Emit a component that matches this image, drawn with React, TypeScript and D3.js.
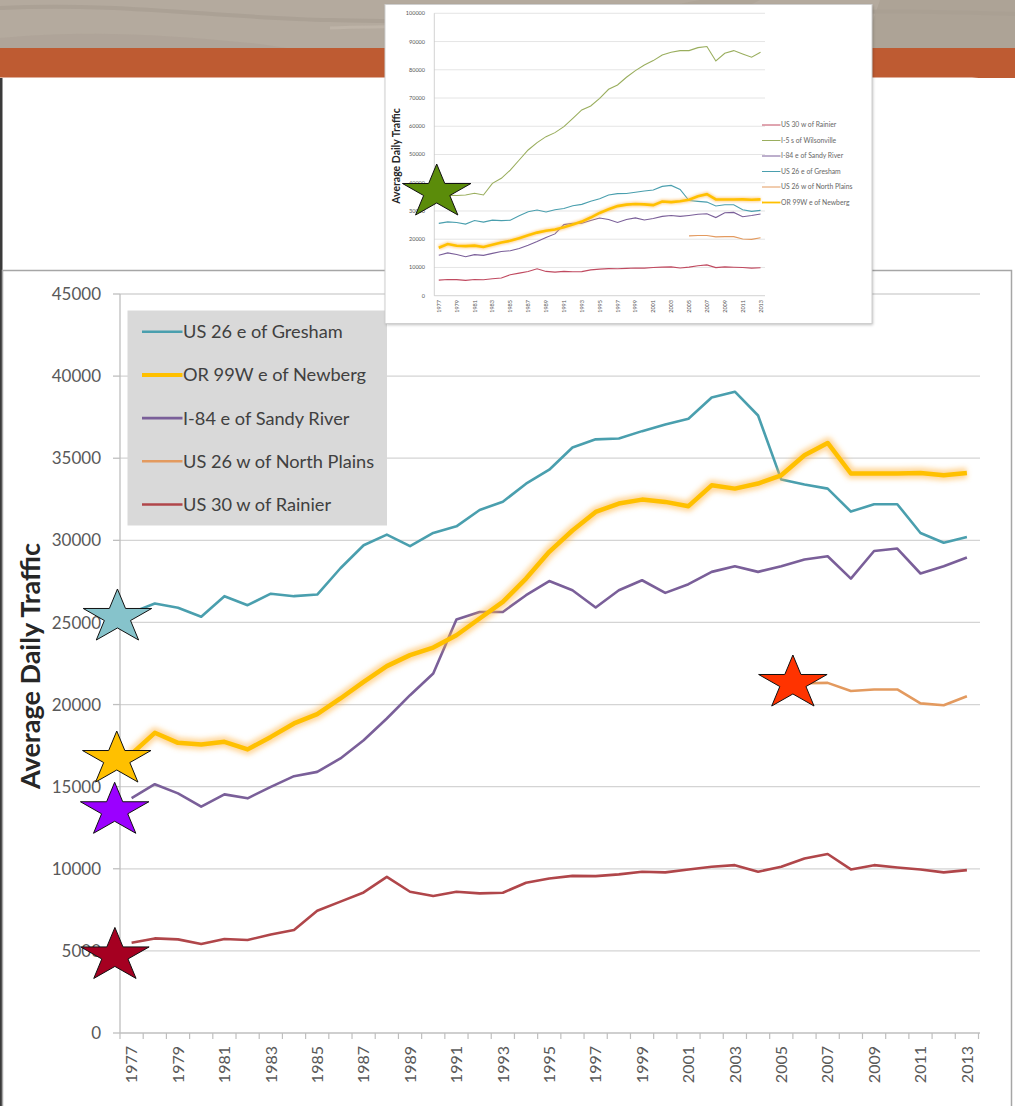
import React from "react";
import * as d3 from "d3";

const years = [1977,1978,1979,1980,1981,1982,1983,1984,1985,1986,1987,1988,1989,1990,1991,1992,1993,1994,1995,1996,1997,1998,1999,2000,2001,2002,2003,2004,2005,2006,2007,2008,2009,2010,2011,2012,2013];

const gresham = [25600,26150,25900,25350,26600,26050,26750,26600,26700,28300,29700,30350,29650,30450,30850,31850,32350,33450,34300,35650,36150,36200,36650,37050,37400,38700,39050,37600,33700,33400,33150,31750,32200,32200,30450,29850,30200];
const newberg = [17000,18280,17670,17570,17730,17270,18030,18850,19420,20370,21380,22340,23010,23470,24220,25240,26250,27670,29300,30600,31730,32240,32480,32340,32080,33350,33150,33460,33960,35180,35930,34070,34070,34070,34100,33960,34100];
const sandyRiver = [14300,15150,14590,13780,14530,14290,14990,15640,15900,16720,17830,19150,20570,21890,25180,25640,25640,26660,27520,26960,25910,26960,27570,26800,27330,28080,28420,28080,28420,28830,29030,27670,29350,29500,27980,28420,28950];
const northPlains = [null,null,null,null,null,null,null,null,null,null,null,null,null,null,null,null,null,null,null,null,null,null,null,null,null,null,null,null,21200,21300,21320,20830,20920,20920,20070,19960,20510];
const rainier = [5500,5760,5700,5420,5720,5660,6000,6270,7440,8000,8560,9510,8600,8340,8600,8500,8540,9150,9410,9570,9550,9660,9820,9780,9960,10120,10220,9820,10120,10630,10900,9960,10220,10080,9960,9780,9920];
const wilsonville = [35500,35600,35500,35660,36250,35660,39790,41560,44500,48050,51600,54200,56320,57740,59870,62820,65770,67200,69900,73090,74630,77340,79700,81710,83250,85260,86200,86790,86790,87850,88230,83130,85850,86790,85610,84430,86200];

const mainTicks = [0,5000,10000,15000,20000,25000,30000,35000,40000,45000];
const insetTicks = [0,10000,20000,30000,40000,50000,60000,70000,80000,90000,100000];

const mainLegend = ["US 26 e of Gresham","OR 99W e of Newberg","I-84 e of Sandy River","US 26 w of North Plains","US 30 w of Rainier"];
const insetLegend = ["US 30 w of Rainier","I-5 s of Wilsonville","I-84 e of Sandy River","US 26 e of Gresham","US 26 w of North Plains","OR 99W e of Newberg"];

// star annotations: year position (fractional), value, fill
const mainStars = [
  { year: 1976.39, value: 25320, fill: "#86C3CB" },
  { year: 1976.36, value: 16670, fill: "#FFC000" },
  { year: 1976.27, value: 13550, fill: "#9B00FF" },
  { year: 1976.28, value: 4710, fill: "#A50021" },
  { year: 2005.5, value: 21300, fill: "#FF3300" },
];
const insetStars = [{ year: 1976.77, value: 36650, fill: "#5B8C0A" }];

const C = {
  teal: "#4A9FAE",
  yellow: "#FFC000",
  purple: "#7A5F99",
  orange: "#E39A5F",
  red: "#B0464A",
  green: "#9AAE5E",
  insetRed: "#C04A60",
};

const FONT = "Lato, 'Open Sans', sans-serif";

function starPath(cx: number, cy: number, rx: number, ry: number) {
  const pts: string[] = [];
  for (let i = 0; i < 10; i++) {
    const a = (-90 + i * 36) * Math.PI / 180;
    const r = i % 2 === 0 ? 1 : 0.382;
    pts.push(`${cx + rx * r * Math.cos(a)},${cy + ry * r * Math.sin(a)}`);
  }
  return "M" + pts.join("L") + "Z";
}

export default function App() {
  // main chart scales
  const xBand = d3.scaleBand<number>().domain(years).range([120, 978.5]).padding(0);
  const bw = xBand.bandwidth();
  const xc = (yr: number) => (xBand(yr) as number) + bw / 2;
  const xLin = d3.scaleLinear().domain([1977, 2013]).range([xc(1977), xc(2013)]);
  const y = d3.scaleLinear().domain([0, 45000]).range([1033, 294]);

  const mkLine = (xs: (yr: number) => number, ys: d3.ScaleLinear<number, number>) =>
    d3.line<number | null>()
      .defined((d) => d !== null)
      .x((_, i) => xs(years[i]))
      .y((d) => ys(d as number));

  const line = mkLine(xc, y);

  // inset scales
  const ixBand = d3.scaleBand<number>().domain(years).range([434.3, 765]).padding(0);
  const ibw = ixBand.bandwidth();
  const ixc = (yr: number) => (ixBand(yr) as number) + ibw / 2;
  const ixLin = d3.scaleLinear().domain([1977, 2013]).range([ixc(1977), ixc(2013)]);
  const iy = d3.scaleLinear().domain([0, 100000]).range([295.7, 13.3]);
  const iline = mkLine(ixc, iy);

  const mainSeries = [
    { data: gresham, color: C.teal },
    { data: sandyRiver, color: C.purple },
    { data: northPlains, color: C.orange },
    { data: rainier, color: C.red },
  ];
  const legendColors = [C.teal, C.yellow, C.purple, C.orange, C.red];
  const insetLegendColors = [C.insetRed, C.green, C.purple, C.teal, C.orange, C.yellow];

  const RX = 36, RY = 28.2;

  return (
    <svg width={1015} height={1106} style={{ position: "absolute", left: 0, top: 0, display: "block" }} fontFamily={FONT}>
      <defs>
        <filter id="glow" x="-5%" y="-20%" width="110%" height="140%">
          <feGaussianBlur stdDeviation="2.8" />
        </filter>
        <filter id="glowS" x="-5%" y="-20%" width="110%" height="140%">
          <feGaussianBlur stdDeviation="1.2" />
        </filter>
        <filter id="shadow" x="-5%" y="-5%" width="110%" height="110%">
          <feGaussianBlur stdDeviation="1.5" />
        </filter>
      </defs>

      {/* slide background */}
      <rect x={0} y={0} width={1015} height={1106} fill="#FFFFFF" />
      <rect x={0} y={0} width={1015} height={50} fill="#B4AA9E" />
      <path d="M0,8 C120,2 220,18 330,20 S520,26 700,18 S900,10 1015,14" stroke="#A79D91" strokeWidth={4} fill="none" opacity={0.7} />
      <path d="M0,38 C90,30 160,34 260,44 L300,50 L0,50 Z" fill="#AEA397" opacity={0.8} />
      <path d="M560,50 C600,30 640,10 700,0 L760,0 C720,20 690,36 660,50 Z" fill="#ABA195" opacity={0.6} />
      <path d="M880,0 L1015,0 L1015,50 L860,50 C870,30 875,15 880,0 Z" fill="#A99F93" opacity={0.7} />
      <path d="M330,28 C420,24 520,30 620,22" stroke="#C2B8AD" strokeWidth={3} fill="none" opacity={0.7} />
      <rect x={0} y={48} width={1015} height={30} fill="#BE5B32" />
      <path d="M0,77.5 L972,77.5 Q1015,77.5 1015,118 L1015,1106 L0,1106 Z" fill="#FFFFFF" />
      <rect x={0} y={78} width={2.5} height={1028} fill="#3A3A3A" />

      {/* main chart frame */}
      <rect x={2.5} y={270.5} width={1009} height={840} fill="#FFFFFF" stroke="#A6A6A6" strokeWidth={1.5} />

      {/* gridlines */}
      {mainTicks.map((t) => (
        <g key={"g" + t}>
          {t > 0 && <line x1={120} x2={980} y1={y(t)} y2={y(t)} stroke="#D4D4D4" strokeWidth={1.3} />}
          <line x1={113} x2={120} y1={y(t)} y2={y(t)} stroke="#BFBFBF" strokeWidth={1.3} />
          <text x={101} y={y(t)} dy="0.36em" textAnchor="end" fontSize={17} fill="#595959">{t}</text>
        </g>
      ))}
      {/* axes */}
      <line x1={120} x2={120} y1={294} y2={1033} stroke="#BFBFBF" strokeWidth={1.3} />
      <line x1={120} x2={980} y1={1033} y2={1033} stroke="#BFBFBF" strokeWidth={1.3} />
      {years.map((yr) => (
        <line key={"xt" + yr} x1={xBand(yr)! + bw} x2={xBand(yr)! + bw} y1={1033} y2={1039} stroke="#BFBFBF" strokeWidth={1.2} />
      ))}
      <line x1={120} x2={120} y1={1033} y2={1039} stroke="#BFBFBF" strokeWidth={1.2} />
      {years.filter((yr) => (yr - 1977) % 2 === 0).map((yr) => (
        <text key={"xl" + yr} transform={`translate(${xc(yr)},1046) rotate(-90)`} dy="0.36em" textAnchor="end" fontSize={16} fill="#595959">{yr}</text>
      ))}
      <text transform="translate(30,666) rotate(-90)" dy="0.36em" textAnchor="middle" fontSize={27} fontWeight="bold" fill="#262626">Average Daily Traffic</text>

      {/* series */}
      {mainSeries.map((s, i) => (
        <path key={"s" + i} d={line(s.data) || ""} fill="none" stroke={s.color} strokeWidth={2.6} strokeLinejoin="round" />
      ))}
      <path d={line(newberg) || ""} fill="none" stroke="#FFB64A" strokeWidth={11} strokeOpacity={0.55} filter="url(#glow)" strokeLinejoin="round" />
      <path d={line(newberg) || ""} fill="none" stroke={C.yellow} strokeWidth={4.5} strokeLinejoin="round" />

      {/* main legend */}
      <rect x={127.5} y={310.5} width={259.5} height={215} fill="#D9D9D9" />
      {mainLegend.map((name, i) => {
        const ly = 331.7 + i * 43.2;
        return (
          <g key={"ml" + i}>
            <line x1={142} x2={182.5} y1={ly} y2={ly} stroke={legendColors[i]} strokeWidth={i === 1 ? 4 : 2.6} />
            <text x={183} y={ly} dy="0.36em" fontSize={18.2} fill="#404040">{name}</text>
          </g>
        );
      })}

      {/* inset chart */}
      <rect x={386} y={6} width={487} height={319} fill="#000" opacity={0.25} filter="url(#shadow)" />
      <rect x={385} y={4.5} width={487} height={319} fill="#FFFFFF" stroke="#CFCFCF" strokeWidth={1} />
      {insetTicks.map((t) => (
        <g key={"ig" + t}>
          <line x1={434.3} x2={765} y1={iy(t)} y2={iy(t)} stroke={t === 0 ? "#BFBFBF" : "#DADADA"} strokeWidth={0.7} />
          <text x={425} y={iy(t)} dy="0.36em" textAnchor="end" fontSize={5.5} fill="#555">{t}</text>
        </g>
      ))}
      <line x1={434.3} x2={434.3} y1={13.3} y2={295.7} stroke="#BFBFBF" strokeWidth={0.7} />
      {years.filter((yr) => (yr - 1977) % 2 === 0).map((yr) => (
        <text key={"ixl" + yr} transform={`translate(${ixc(yr)},300) rotate(-90)`} dy="0.36em" textAnchor="end" fontSize={5.5} fill="#555">{yr}</text>
      ))}
      <text transform="translate(396,156) rotate(-90)" dy="0.36em" textAnchor="middle" fontSize={10.5} fontWeight="bold" fill="#262626">Average Daily Traffic</text>
      <path d={iline(rainier) || ""} fill="none" stroke={C.insetRed} strokeWidth={1.1} />
      <path d={iline(wilsonville) || ""} fill="none" stroke={C.green} strokeWidth={1.1} />
      <path d={iline(sandyRiver) || ""} fill="none" stroke={C.purple} strokeWidth={1.1} />
      <path d={iline(gresham) || ""} fill="none" stroke={C.teal} strokeWidth={1.1} />
      <path d={iline(northPlains) || ""} fill="none" stroke={C.orange} strokeWidth={1.1} />
      <path d={iline(newberg) || ""} fill="none" stroke="#FFB64A" strokeWidth={5} strokeOpacity={0.5} filter="url(#glowS)" />
      <path d={iline(newberg) || ""} fill="none" stroke={C.yellow} strokeWidth={2.6} />
      {insetLegend.map((name, i) => {
        const ly = 125 + i * 15.5;
        return (
          <g key={"il" + i}>
            <line x1={762} x2={780.5} y1={ly} y2={ly} stroke={insetLegendColors[i]} strokeWidth={i === 5 ? 1.8 : 1} />
            <text x={781} y={ly} dy="0.36em" fontSize={6.8} fill="#666">{name}</text>
          </g>
        );
      })}
      {insetStars.map((s, i) => (
        <path key={"is" + i} d={starPath(ixLin(s.year), iy(s.value), RX, RY)} fill={s.fill} stroke="#111" strokeWidth={1} />
      ))}

      {/* main stars */}
      {mainStars.map((s, i) => (
        <path key={"ms" + i} d={starPath(xLin(s.year), y(s.value), RX, RY)} fill={s.fill} stroke="#111" strokeWidth={1} />
      ))}
    </svg>
  );
}
